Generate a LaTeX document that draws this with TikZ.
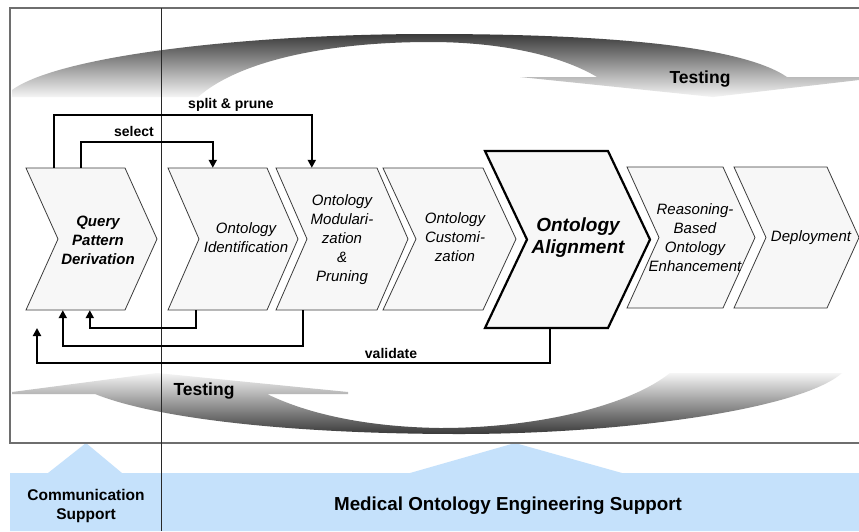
\documentclass[tikz,border=0pt]{standalone}
\usepackage{fontspec}
\setmainfont{Liberation Sans}
\usetikzlibrary{arrows.meta,calc,fit}
\definecolor{chevfill}{RGB}{247,247,247}
\definecolor{chevline}{RGB}{60,60,60}
\definecolor{framecol}{RGB}{110,110,110}
\definecolor{divcol}{RGB}{40,40,40}
\definecolor{bandblue}{RGB}{197,225,251}
\definecolor{sdark}{RGB}{58,58,58}
\definecolor{slight}{RGB}{245,245,245}
\newcommand\mychevron[7]{%
  \path[#7] (#2,#5) -- (#3,#5) -- ({#3+#4},{(#5+#6)/2}) -- (#3,#6) -- (#2,#6) -- ({#2+#4},{(#5+#6)/2}) -- cycle;
  \coordinate (#1-a) at (#2,#5);
  \coordinate (#1-b) at ({#3+#4},#6);
  \node[fit={(#1-a)(#1-b)}, inner sep=0pt] (#1) {};
}
\begin{document}
\begin{tikzpicture}[x=1pt,y=-1pt,
  chev/.style={draw=chevline, fill=chevfill, line width=0.8pt},
  chevbold/.style={draw=black, fill=chevfill, line width=2.2pt},
  conn/.style={draw=black, line width=2.2pt, -{Triangle[width=8pt,length=8pt]}},
  ctext/.style={align=center, font=\fontsize{15}{19}\selectfont\itshape, inner sep=0pt},
  lbl/.style={font=\fontsize{14}{16}\selectfont\bfseries, inner sep=0pt},
  testing/.style={font=\fontsize{17.5}{20}\selectfont\bfseries, inner sep=0pt},
  frame/.style={draw=framecol, line width=1.6pt},
]
\useasboundingbox (0,0) rectangle (859,531);
\fill[white] (0,0) rectangle (859,531);

% blue support band
\fill[bandblue] (10,473) -- (48,473) -- (86,443) -- (122,473) -- (410,473) -- (515,443) -- (622,473) -- (859,473) -- (859,531) -- (10,531) -- cycle;

% frame
\draw[frame] (859,8) -- (10,8) -- (10,443) -- (859,443);

% top testing swoosh
\shade[top color=sdark, bottom color=slight]
  (12,97) -- (198,97) .. controls (240,60) and (330,42) .. (430,42)
  .. controls (500,42) and (560,55) .. (597,77) -- (520,77) -- (713,97) -- (859,80) -- (859,77) -- (787,77)
  .. controls (740,45) and (600,34) .. (430,34)
  .. controls (250,34) and (60,55) .. (12,90) -- cycle;
% bottom testing swoosh
\shade[top color=slight, bottom color=sdark]
  (12,392) -- (157,373) -- (348,392) -- (348,394) -- (267,394)
  .. controls (310,415) and (370,427) .. (440,428)
  .. controls (540,428) and (630,405) .. (670,373) -- (842,373)
  .. controls (800,410) and (620,434) .. (460,434)
  .. controls (300,434) and (160,420) .. (95,394) -- (12,394) -- cycle;

\node[testing] (ttop) at (700,79) {Testing};
\node[testing] (tbot) at (204,391) {Testing};

% divider
\draw[divcol, line width=1pt] (161,8) -- (161,531);

% chevrons
\mychevron{qpd}{26}{125}{32}{168}{310}{chev}
\mychevron{ident}{168}{267}{31}{168}{310}{chev}
\mychevron{mod}{276}{377}{31}{168}{310}{chev}
\mychevron{cust}{383}{483}{33}{168}{310}{chev}
\mychevron{align}{485}{608}{42}{151}{328}{chevbold}
\mychevron{reas}{627}{723}{32}{167}{308}{chev}
\mychevron{depl}{734}{827}{32}{167}{308}{chev}

\node[ctext, font=\fontsize{15}{19}\selectfont\bfseries\itshape] (qpdt) at (98,240) {Query\\Pattern\\Derivation};
\node[ctext] (identt) at (246,238) {Ontology\\Identification};
\node[ctext] (modt) at (342,240) {Ontology\\Modulari-\\zation\\\&\\Pruning};
\node[ctext] (custt) at (455,237) {Ontology\\Customi-\\zation};
\node[ctext, font=\fontsize{19}{22}\selectfont\bfseries\itshape] (alignt) at (578,238) {Ontology\\Alignment};
\node[ctext] (reast) at (695,238) {Reasoning-\\Based\\Ontology\\Enhancement};
\node[ctext] (deplt) at (811,238) {Deployment};

% connectors
\draw[conn] ($(qpd.north west)+(28,0)$) -- ++(0,-53) -| ($(mod.north west)+(36,0)$);
\draw[conn] ($(qpd.north west)+(55,0)$) -- ++(0,-26) -| ($(ident.north west)+(45,0)$);
\draw[conn] ($(ident.south west)+(28,0)$) -- ++(0,18) -| ($(qpd.south west)+(64,0)$);
\draw[conn] ($(mod.south west)+(27,0)$) -- ++(0,36) -| ($(qpd.south west)+(37,0)$);
\coordinate (vend) at (37,328);
\draw[conn] ($(align.south west)+(65,0)$) -- ++(0,35) -| (vend);

\node[lbl] (lsplit) at (231,105) {split \& prune};
\node[lbl] (lselect) at (134,131) {select};
\node[lbl] (lvalid) at (391,353) {validate};

% support labels
\node[align=center, inner sep=0pt, font=\fontsize{15.5}{19}\selectfont\bfseries] (comm) at (86,506) {Communication\\Support};
\node[inner sep=0pt, font=\fontsize{18.8}{22}\selectfont\bfseries] (med) at (508,506) {Medical Ontology Engineering Support};
\end{tikzpicture}
\end{document}
